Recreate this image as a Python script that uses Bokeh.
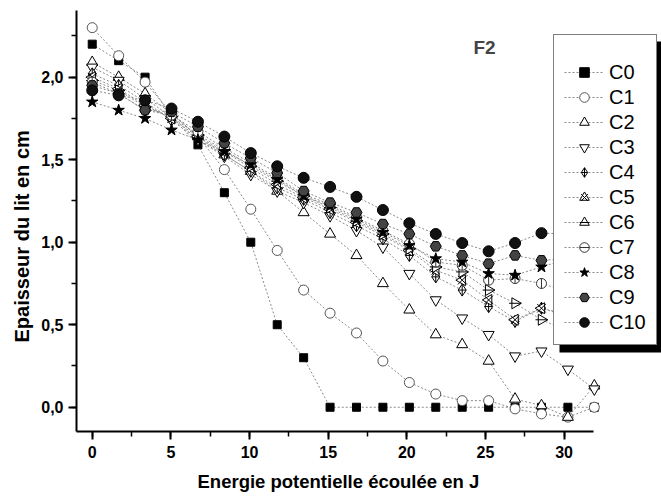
import math
from bokeh.plotting import figure
from bokeh.models import (Range1d, SingleIntervalTicker, CustomJSTickFormatter,
                          Legend, LegendItem, Label, BoxAnnotation, Title)
from bokeh.embed import file_html
from bokeh.resources import INLINE

# ---------------- data ----------------
energy = [0, 1.68, 3.36, 5.04, 6.72, 8.40, 10.08, 11.76, 13.44, 15.12,
          16.80, 18.48, 20.16, 21.84, 23.52, 25.20, 26.88, 28.56, 30.24, 31.92]

c0 = [2.20, 2.10, 2.00, 1.76, 1.59, 1.30, 1.00, 0.50, 0.30, 0.00,
      0.00, 0.00, 0.00, 0.00, 0.00, 0.00, 0.00, 0.00, 0.00, 0.00]
c1 = [2.30, 2.13, 1.97, 1.78, 1.64, 1.44, 1.20, 0.95, 0.71, 0.57,
      0.45, 0.28, 0.15, 0.08, 0.04, 0.04, -0.01, -0.04, -0.06, 0.00]
c2 = [2.09, 2.00, 1.90, 1.78, 1.64, 1.53, 1.43, 1.31, 1.18, 1.05,
      0.92, 0.75, 0.59, 0.44, 0.38, 0.28, 0.05, 0.01, -0.06, 0.13]
c3 = [2.06, 1.98, 1.87, 1.76, 1.62, 1.52, 1.41, 1.31, 1.24, 1.16,
      1.07, 0.97, 0.81, 0.65, 0.54, 0.44, 0.31, 0.34, 0.23, 0.11]
c4 = [2.02, 1.95, 1.85, 1.74, 1.62, 1.53, 1.43, 1.33, 1.26, 1.18,
      1.10, 1.02, 0.92, 0.79, 0.71, 0.61, 0.52, 0.60, 0.55, 0.50]
c5 = [2.00, 1.93, 1.83, 1.75, 1.64, 1.55, 1.45, 1.35, 1.27, 1.20,
      1.12, 1.04, 0.95, 0.83, 0.77, 0.65, 0.53, 0.60, 0.56, 0.52]
c6 = [1.98, 1.92, 1.82, 1.76, 1.65, 1.56, 1.46, 1.37, 1.28, 1.21,
      1.13, 1.05, 0.96, 0.85, 0.82, 0.71, 0.63, 0.53, 0.46, 0.42]
c7 = [1.97, 1.90, 1.80, 1.77, 1.67, 1.57, 1.48, 1.39, 1.29, 1.23,
      1.15, 1.07, 0.99, 0.88, 0.86, 0.77, 0.78, 0.75, 0.70, 0.70]
c8 = [1.85, 1.80, 1.75, 1.68, 1.62, 1.55, 1.47, 1.38, 1.28, 1.22,
      1.14, 1.06, 0.98, 0.90, 0.88, 0.81, 0.80, 0.85, 0.90, 0.90]
c9 = [1.95, 1.90, 1.80, 1.79, 1.70, 1.60, 1.51, 1.42, 1.31, 1.24,
      1.18, 1.11, 1.05, 0.975, 0.92, 0.87, 0.92, 0.89, 0.90, 0.95]
c10 = [1.92, 1.89, 1.86, 1.81, 1.73, 1.64, 1.54, 1.46, 1.39, 1.335,
       1.275, 1.195, 1.115, 1.05, 0.995, 0.945, 0.995, 1.055, 1.05, 1.10]

series_names = ["C0", "C1", "C2", "C3", "C4", "C5", "C6", "C7", "C8", "C9", "C10"]
series_values = [c0, c1, c2, c3, c4, c5, c6, c7, c8, c9, c10]

y_tick_step = 0.5
x_tick_step = 5
x_axis_bounds = (-1.0, 31.87)

# ---------------- layout constants (pixels) ----------------
W, H = 661, 499
BL, BR, BT, BB = 76, 0, 10, 68
FW, FH = W - BL - BR, H - BT - BB
X0 = -1.0
X1 = X0 + FW / 15.73
Y0, Y1 = -0.147, 2.404

def px_to_x(px):
    return X0 + (px - BL) / FW * (X1 - X0)

def py_to_y(py):
    return Y1 - (py - BT) / FH * (Y1 - Y0)

# ---------------- styles ----------------
HALF_PI = math.pi / 2
marker_styles = [
    [("square", 8, "black", "black", 0)],
    [("circle", 10, "white", "#555555", 0)],
    [("triangle", 11, "white", "black", 0)],
    [("inverted_triangle", 11, "white", "black", 0)],
    [("diamond_cross", 12, "white", "black", 0)],
    [("triangle", 11, "white", "black", HALF_PI), ("x", 12, None, "black", 0)],
    [("triangle", 11, "white", "black", -HALF_PI), ("dash", 12, None, "black", 0)],
    [("circle", 10, "white", "#333333", 0), ("dash", 10, None, "#333333", HALF_PI)],
    [("star", 12, "black", "black", 0)],
    [("hex", 11, "#444444", "black", 0)],
    [("circle", 11, "#111111", "black", 0)],
]

FONT = "Liberation Sans"

p = figure(width=W, height=H,
           x_range=Range1d(X0, X1), y_range=Range1d(Y0, Y1),
           output_backend="svg", toolbar_location=None,
           min_border_left=BL, min_border_right=BR,
           min_border_top=BT, min_border_bottom=BB)
p.xgrid.visible = False
p.ygrid.visible = False
p.outline_line_color = None
p.background_fill_color = "white"
p.border_fill_color = "white"

# lines first
line_rs = []
for vals in series_values:
    r = p.line(energy, vals, line_color="#8a8a8a", line_width=1, line_dash="2 2")
    line_rs.append(r)

marker_rs = []
for vals, styles in zip(series_values, marker_styles):
    rs = []
    for (mk, sz, fill, lc, ang) in styles:
        r = p.scatter(energy, vals, marker=mk, size=sz,
                      fill_color=fill if fill else None,
                      line_color=lc, line_width=1, angle=ang)
        rs.append(r)
    marker_rs.append(rs)

# axes
xa = p.xaxis[0]
ya = p.yaxis[0]
xa.bounds = x_axis_bounds
xa.ticker = SingleIntervalTicker(interval=x_tick_step, num_minor_ticks=2)
ya.ticker = SingleIntervalTicker(interval=y_tick_step, num_minor_ticks=2)
ya.formatter = CustomJSTickFormatter(code="return tick.toFixed(1).replace('.', ',');")
for ax in (xa, ya):
    ax.axis_line_width = 2
    ax.axis_line_color = "black"
    ax.major_tick_line_width = 2
    ax.minor_tick_line_width = 1.5
    ax.major_tick_out = 8
    ax.major_tick_in = 0
    ax.minor_tick_out = 5
    ax.minor_tick_in = 0
    ax.major_label_text_font = FONT
    ax.major_label_text_font_style = "bold"
    ax.major_label_text_font_size = "16px"
    ax.major_label_text_color = "black"
xa.major_label_standoff = 6
ya.major_label_standoff = 5

# axis titles placed as panel titles so they can be positioned like the reference
p.add_layout(Title(text="Energie potentielle écoulée en J", align="left",
                   offset=121, text_font=FONT, text_font_style="bold",
                   text_font_size="18.5px", text_color="black", standoff=16),
             "below")
p.add_layout(Title(text="Epaisseur du lit en cm", align="left",
                   offset=89, text_font=FONT, text_font_style="bold",
                   text_font_size="20px", text_color="black", standoff=12),
             "left")

# F2 label
p.add_layout(Label(x=24.94, y=2.18, text="F2", text_font=FONT,
                   text_font_style="bold", text_font_size="19px",
                   text_align="center", text_baseline="middle"))

# legend geometry (pixels)
LEG_LEFT, LEG_BOTTOM = 553, 345
LEG_W, LEG_H = 103, 311
SH_DX, SH_DY = 6, 7

# drop shadow behind the legend
p.add_layout(BoxAnnotation(left=px_to_x(LEG_LEFT + SH_DX),
                           right=px_to_x(LEG_LEFT + LEG_W + SH_DX),
                           top=py_to_y(LEG_BOTTOM - LEG_H + SH_DY),
                           bottom=py_to_y(LEG_BOTTOM + SH_DY),
                           fill_color="black", fill_alpha=1, line_color=None))

items = [LegendItem(label=n, renderers=[lr] + mrs)
         for n, lr, mrs in zip(series_names, line_rs, marker_rs)]
legend = Legend(items=items,
                location=(LEG_LEFT - BL, (BT + FH) - LEG_BOTTOM),
                padding=10, spacing=1, glyph_width=40, glyph_height=24,
                label_height=24, label_standoff=5, label_text_font=FONT,
                label_text_font_size="20px", title=" ",
                title_text_font_size="12px", title_standoff=1, margin=0,
                border_line_width=1.5, border_line_color="black",
                background_fill_color="white", background_fill_alpha=1,
                label_text_color="black")
p.add_layout(legend)

open("out.html", "w").write(file_html(p, INLINE))
